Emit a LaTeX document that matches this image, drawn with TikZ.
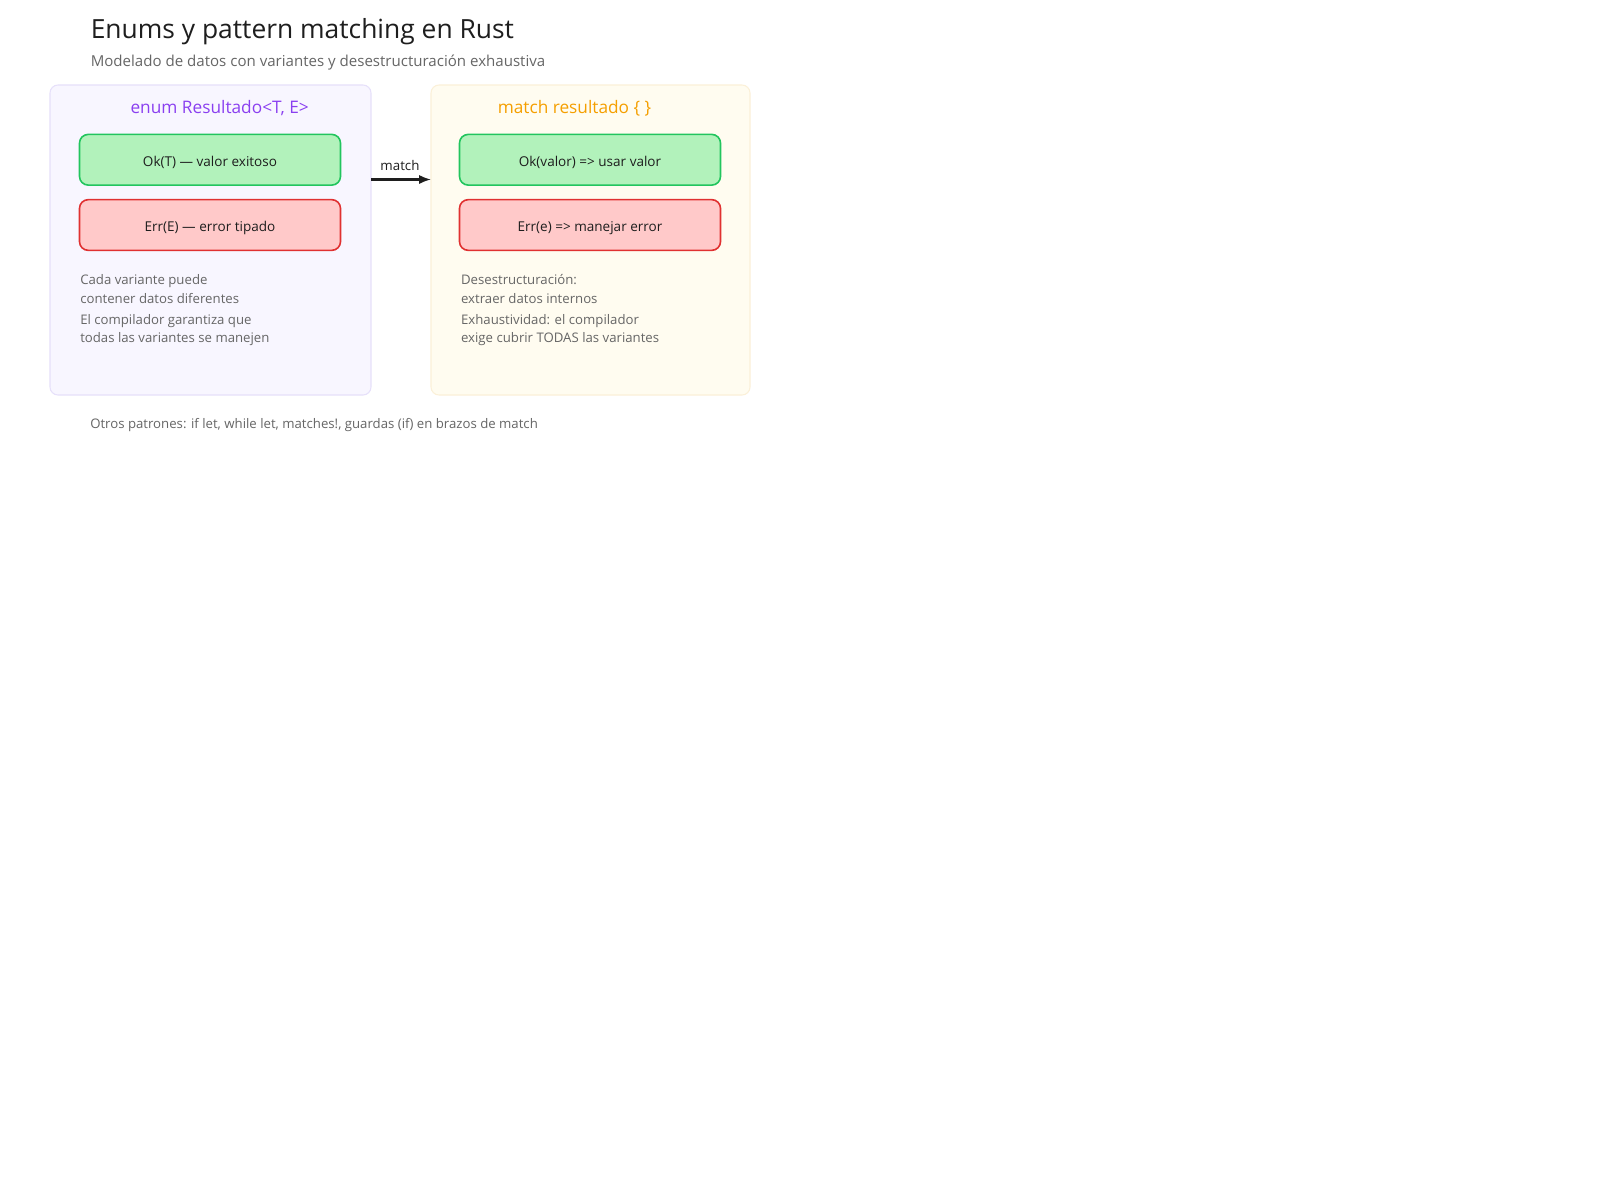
\documentclass[tikz,border=0pt]{standalone}
\usepackage{fontspec}
\usetikzlibrary{arrows.meta}
\setmainfont{Open Sans}
\definecolor{lpanelfill}{HTML}{F8F6FF}
\definecolor{lpaneldraw}{HTML}{E6E0FA}
\definecolor{rpanelfill}{HTML}{FFFCF0}
\definecolor{rpaneldraw}{HTML}{FBF0D8}
\definecolor{okfill}{HTML}{B2F2BB}
\definecolor{okdraw}{HTML}{22C55E}
\definecolor{errfill}{HTML}{FFC9C9}
\definecolor{errdraw}{HTML}{E03131}
\definecolor{purpletxt}{HTML}{8A3FF0}
\definecolor{orangetxt}{HTML}{F59F00}
\definecolor{greytxt}{HTML}{666666}
\definecolor{darktxt}{HTML}{1E1E1E}
\tikzset{
  panel/.style={draw, line width=0.8pt, rounded corners=6pt},
  variant/.style={draw, line width=1.2pt, rounded corners=6.5pt, minimum width=195.75pt, minimum height=38pt, inner sep=0pt, text height=9.4pt, text depth=0pt, font=\fontsize{10.15}{12}\selectfont, text=darktxt},
  okbox/.style={variant, fill=okfill, draw=okdraw},
  errbox/.style={variant, fill=errfill, draw=errdraw},
  note/.style={anchor=base west, inner sep=0pt, text=greytxt, font=\fontsize{9.9}{12}\selectfont},
  ptitle/.style={anchor=base, inner sep=0pt, font=\fontsize{12.95}{15}\selectfont},
}
\begin{document}
\begin{tikzpicture}[x=0.75pt, y=-0.75pt]
\useasboundingbox[fill=white] (0,0) rectangle (1600,1200);
% title
\node[anchor=base west, inner sep=0pt, text=darktxt, font=\fontsize{19.8}{24}\selectfont] (title) at (90.5,38.3) {Enums y pattern matching en Rust};
\node[anchor=base west, inner sep=0pt, text=greytxt, font=\fontsize{11.3}{13}\selectfont] (subtitle) at (90.5,66.7) {Modelado de datos con variantes y desestructuración exhaustiva};
% panels
\draw[panel, fill=lpanelfill, draw=lpaneldraw] (50,85) rectangle (371,395);
\coordinate (lpE) at (371,179.5);
\draw[panel, fill=rpanelfill, draw=rpaneldraw] (431,85) rectangle (750,395);
\coordinate (rpW) at (431,179.5);
\node[ptitle, text=purpletxt] (ltitle) at (219.7,113.3) {enum Resultado<T, E>};
\node[ptitle, text=orangetxt] (rtitle) at (574.5,113.3) {match resultado \{ \}};
% variants
\node[okbox] (ok1) at (210,159.75) {Ok(T) — valor exitoso};
\node[errbox] (err1) at (210,225) {Err(E) — error tipado};
\node[okbox] (ok2) at (590,159.75) {Ok(valor) => usar valor};
\node[errbox] (err2) at (590,225) {Err(e) => manejar error};
% notes
\node[note] (n1) at (80,284) {Cada variante puede};
\node[note] (n2) at (80,303.3) {contener datos diferentes};
\node[note] (n3) at (80,324) {El compilador garantiza que};
\node[note] (n4) at (80,342.7) {todas las variantes se manejen};
\node[note] (m1) at (460.8,284) {Desestructuración:};
\node[note] (m2) at (460.8,303.3) {extraer datos internos};
\node[note] (m3) at (460.8,324) {Exhaustividad: el compilador};
\node[note] (m4) at (460.8,342.7) {exige cubrir TODAS las variantes};
% arrow
\draw[line width=1.6pt, draw=darktxt, -{Latex[length=9pt,width=7pt]}] (lpE) -- (rpW);
\node[anchor=base, inner sep=0pt, text=darktxt, font=\fontsize{10}{12}\selectfont] (lbl) at (400,170) {match};
% footer
\node[note] (foot) at (90,428.3) {Otros patrones: if let, while let, matches!, guardas (if) en brazos de match};
\end{tikzpicture}
\end{document}
